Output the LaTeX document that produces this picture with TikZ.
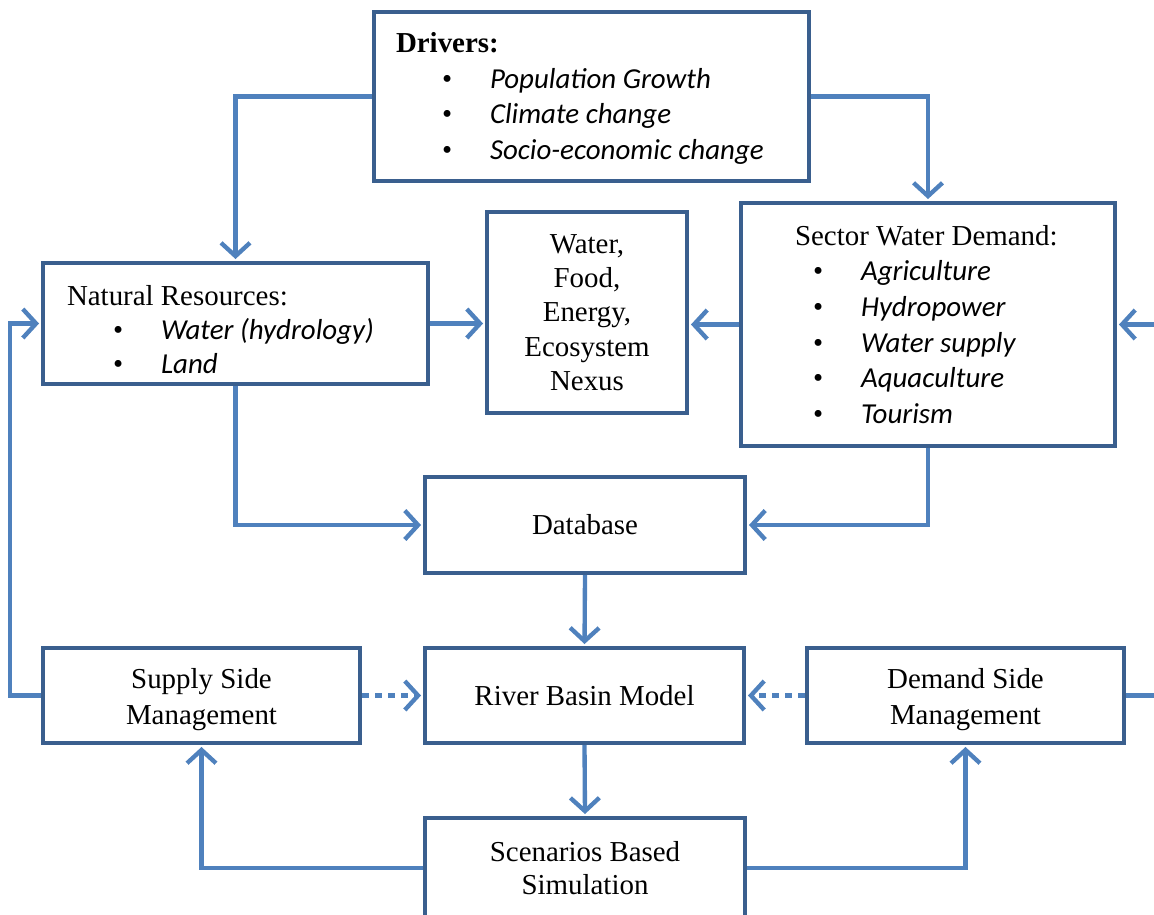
\documentclass[tikz,border=0pt]{standalone}
\usepackage{fontspec}
\setmainfont{Liberation Serif}
\newfontfamily\calib{Carlito}
\usetikzlibrary{arrows.meta,positioning,calc}
\definecolor{frame}{HTML}{3A5F8E}
\definecolor{flow}{HTML}{4F81BD}
\newlength\px \setlength\px{0.415pt}
\newcommand\itm[2]{\hspace*{#1}\makebox[48\px][l]{\textbullet}{\calib\itshape #2}}
\newcommand\lift[1]{\rule{0pt}{#1}}
\tikzset{box/.style={draw=frame,line width=1.7pt,fill=white,inner sep=0pt,font=\fontsize{12}{14.8}\selectfont},arr/.style={-{Straight Barb[length=5.5pt,width=12pt]},line width=1.8pt,draw=flow,shorten >=0.8pt},dotarr/.style={arr,dash pattern=on 2.8pt off 2.6pt},link/.style={line width=1.8pt,draw=flow}}

\begin{document}
\begin{tikzpicture}[x=0.415pt,y=-0.415pt]
\useasboundingbox (0,0) rectangle (1154,914);
\clip (0,0) rectangle (1154,914);
% top row
\node[box,inner xsep=22\px,text width=391\px,minimum height=169\px,align=flush left] (drivers) at (591.5,96.5)
 {\lift{10pt}\textbf{Drivers:}\\ \itm{46\px}{Population Growth}\\ \itm{46\px}{Climate change}\\ \itm{46\px}{Socio-economic change}};
\node[box,inner xsep=24\px,text width=337\px,minimum height=121\px,align=flush left,font=\fontsize{12}{14.2}\selectfont] (natres) at (235.5,323.5)
 {\lift{13.5pt}Natural Resources:\\ \itm{46\px}{Water (hydrology)}\\ \itm{46\px}{Land}};
\node[box,minimum width=200\px,minimum height=201\px,align=center,font=\fontsize{12}{14.2}\selectfont] (nexus) at (587,312.5)
 {Water,\\Food,\\Energy,\\Ecosystem\\Nexus};
\node[box,inner xsep=30\px,text width=314\px,minimum height=243\px,align=flush left] (sector) at (928,324.5)
 {\hspace*{24\px}Sector Water Demand:\\ \itm{42\px}{Agriculture}\\ \itm{42\px}{Hydropower}\\ \itm{42\px}{Water supply}\\ \itm{42\px}{Aquaculture}\\ \itm{42\px}{Tourism}};
% model chain
\node[box,minimum width=320\px,minimum height=96\px] (db) at (585,525) {Database};
\node[box,minimum width=319\px,minimum height=95\px] (rbm) at (584.5,695.5) {River Basin Model};
\node[box,minimum width=317\px,minimum height=95\px,align=center] (supply) at (201.5,695.5) {\lift{11.5pt}Supply Side\\Management};
\node[box,minimum width=317\px,minimum height=95\px,align=center] (dsm) at (965.5,695.5) {\lift{11.5pt}Demand Side\\Management};
\node[box,minimum width=320\px,minimum height=100\px,align=center,font=\fontsize{12}{13.8}\selectfont] (scen) at (585,868) {Scenarios Based\\Simulation};
% free ends at the picture edges
\coordinate (loopL) at (10,695.5);
\coordinate (inR) at (1165,324.5);
\coordinate (outR) at (1165,695.5);
% connectors
\draw[arr] (drivers.west) -| (natres.north);
\draw[arr] (drivers.east) -| (sector.north);
\draw[arr] (natres.east) -- (natres.east -| nexus.west);
\draw[arr] (sector.west) -- (sector.west -| nexus.east);
\draw[arr] (natres.south) |- (db.west);
\draw[arr] (sector.south) |- (db.east);
\draw[arr] (db.south) -- (rbm.north);
\draw[dotarr] (supply.east) -- (rbm.west);
\draw[dotarr] (dsm.west) -- (rbm.east);
\draw[arr] (rbm.south) -- (scen.north);
\draw[arr] (scen.west) -| (supply.south);
\draw[arr] (scen.east) -| (dsm.south);
\draw[arr] (supply.west) -- (loopL) |- (natres.west);
\draw[arr] (inR) -- (sector.east);
\draw[link] (dsm.east) -- (outR);
\end{tikzpicture}
\end{document}
